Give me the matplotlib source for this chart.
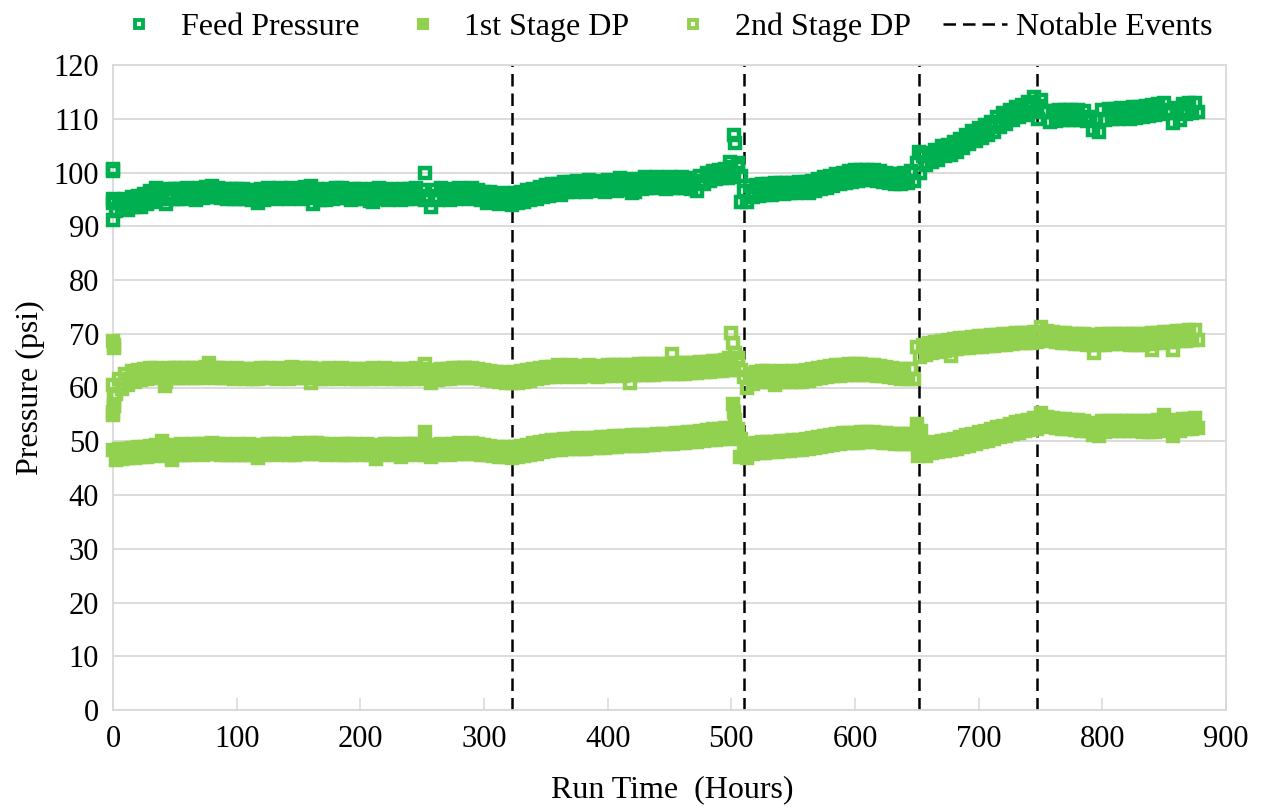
import numpy as np
import matplotlib
matplotlib.use("Agg")
import matplotlib.pyplot as plt
from matplotlib.lines import Line2D

plt.rcParams['font.family'] = ['Liberation Serif', 'DejaVu Serif']

# Logged readings every 2.5 hours (0 ... 877.5 h)
run_time = np.arange(0, 880, 2.5)

feed_pressure = [
    94.4, 92.8, 94.9, 93.2, 95.0, 93.1, 95.4, 93.6, 95.6, 93.5, 96.0, 94.1, 96.6, 94.5, 97.1, 95.0, 96.8, 94.2, 97.0, 95.1,
    97.0, 95.1, 96.9, 95.0, 97.2, 95.2, 96.8, 94.9, 97.1, 95.3, 97.3, 95.4, 97.4, 95.5, 97.2, 95.2, 97.0, 95.0, 96.9, 95.1,
    96.9, 95.0, 97.0, 95.1, 96.8, 94.8, 96.4, 94.3, 96.9, 94.9, 97.1, 95.2, 97.0, 95.0, 97.2, 95.3, 96.9, 95.1, 97.1, 95.2,
    97.0, 95.1, 97.3, 95.4, 97.4, 95.3, 96.9, 94.9, 96.7, 94.8, 97.0, 95.1, 97.1, 95.2, 97.2, 95.3, 96.8, 94.9, 97.0, 95.0,
    96.9, 95.0, 96.6, 94.7, 96.9, 95.0, 97.1, 95.2, 96.8, 94.9, 97.0, 95.1, 96.7, 94.8, 97.0, 95.1, 96.9, 95.0, 97.1, 95.2,
    96.8, 94.9, 95.6, 93.5, 96.8, 94.8, 97.1, 95.2, 96.8, 94.9, 97.0, 95.1, 97.2, 95.3, 96.9, 95.0, 97.1, 95.2, 96.8, 94.9,
    96.3, 94.4, 96.4, 94.5, 96.0, 94.1, 96.2, 94.3, 95.9, 93.9, 96.2, 94.3, 96.4, 94.5, 96.7, 94.8, 97.0, 95.1, 97.3, 95.4,
    97.6, 95.7, 97.9, 96.0, 97.8, 95.8, 98.2, 96.3, 98.2, 96.3, 98.5, 96.6, 98.3, 96.3, 98.6, 96.7, 98.4, 96.5, 98.2, 96.3,
    98.6, 96.7, 98.5, 96.6, 98.9, 97.0, 98.7, 96.8, 98.3, 96.3, 98.8, 96.9, 99.1, 97.2, 99.0, 97.1, 99.2, 97.3, 98.9, 97.0,
    99.1, 97.2, 99.0, 97.1, 99.1, 97.2, 98.9, 97.0, 98.5, 96.6, 99.3, 97.8, 99.9, 98.4, 100.3, 98.8, 100.4, 98.9, 100.7, 99.0,
    101.0, 99.2, 101.0, 99.3, 96.6, 94.6, 97.4, 95.4, 97.6, 95.7, 97.9, 95.9, 97.8, 95.9, 98.1, 96.1, 98.0, 96.0, 98.1, 96.1,
    98.0, 96.1, 98.2, 96.3, 98.3, 96.2, 98.5, 96.6, 98.8, 96.9, 99.1, 97.2, 99.4, 97.5, 99.7, 97.8, 100.0, 98.1, 100.2, 98.3,
    100.4, 98.5, 100.5, 98.6, 100.5, 98.6, 100.4, 98.5, 100.2, 98.3, 99.9, 98.0, 99.7, 97.8, 99.8, 97.8, 100.0, 98.1, 100.3, 98.4,
    101.8, 100.0, 103.0, 101.4, 103.6, 101.9, 104.2, 102.4, 104.9, 103.0, 105.2, 103.3, 105.6, 103.8, 106.3, 104.5, 107.0, 105.3, 107.7, 105.9,
    108.2, 106.4, 108.8, 106.9, 109.4, 107.6, 110.3, 108.4, 111.0, 109.1, 111.6, 109.7, 112.2, 110.3, 112.5, 110.7, 113.2, 111.3, 114.0, 112.3,
    113.5, 111.2, 111.4, 109.4, 111.5, 109.6, 111.7, 109.8, 111.6, 109.7, 111.7, 109.8, 111.6, 109.7, 111.5, 109.5, 110.3, 108.0, 110.0, 107.6,
    111.7, 109.8, 111.8, 109.9, 111.9, 110.0, 112.0, 110.1, 111.9, 110.0, 112.1, 110.2, 112.2, 110.3, 112.4, 110.5, 112.6, 110.7, 112.8, 110.9,
    113.0, 111.0, 111.6, 109.2, 112.0, 109.8, 112.8, 110.8, 113.0, 111.1, 113.0, 111.2,
]
feed_extra_t = [0, 0, 0, 0, 1, 502, 503, 499, 505, 508, 652, 748, 185, 162, 210, 252, 420]
feed_extra_v = [100.6, 100.2, 91.2, 95.0, 94.5, 107.0, 105.5, 102.0, 101.8, 94.6,
                103.8, 110.0, 97.0, 94.2, 94.5, 100.0, 96.2]

stage1_dp = [
    48.4, 46.6, 48.5, 46.7, 48.6, 46.8, 48.7, 46.9, 48.9, 47.0, 49.0, 47.1, 49.1, 47.2, 49.3, 47.4, 50.0, 47.3, 49.2, 46.5,
    49.3, 47.4, 49.4, 47.5, 49.3, 47.4, 49.5, 47.6, 49.4, 47.5, 49.5, 47.6, 49.7, 47.7, 49.5, 47.5, 49.4, 47.5, 49.3, 47.4,
    49.4, 47.5, 49.3, 47.4, 49.5, 47.5, 49.1, 46.9, 49.3, 47.4, 49.5, 47.6, 49.4, 47.5, 49.5, 47.6, 49.3, 47.4, 49.4, 47.5,
    49.6, 47.7, 49.5, 47.6, 49.7, 47.7, 49.6, 47.6, 49.4, 47.5, 49.5, 47.6, 49.3, 47.4, 49.5, 47.5, 49.4, 47.5, 49.5, 47.6,
    49.3, 47.4, 49.4, 47.5, 48.8, 46.7, 49.3, 47.4, 49.5, 47.6, 49.4, 47.5, 49.2, 47.1, 49.4, 47.4, 49.5, 47.6, 49.4, 47.5,
    49.3, 47.4, 49.0, 47.0, 49.3, 47.4, 49.5, 47.6, 49.3, 47.4, 49.5, 47.6, 49.6, 47.7, 49.5, 47.6, 49.6, 47.7, 49.4, 47.5,
    49.3, 47.4, 49.1, 47.2, 48.9, 47.0, 49.0, 47.1, 48.9, 46.9, 49.0, 47.1, 49.1, 47.2, 49.3, 47.4, 49.6, 47.7, 49.9, 48.0,
    50.1, 48.2, 50.3, 48.4, 50.3, 48.4, 50.5, 48.5, 50.5, 48.6, 50.6, 48.6, 50.5, 48.5, 50.6, 48.7, 50.6, 48.7, 50.7, 48.8,
    50.8, 48.9, 50.9, 49.0, 51.0, 49.1, 51.0, 49.1, 51.1, 49.2, 51.1, 49.2, 51.2, 49.3, 51.2, 49.3, 51.3, 49.4, 51.3, 49.4,
    51.4, 49.5, 51.5, 49.6, 51.6, 49.7, 51.7, 49.8, 51.8, 49.9, 52.0, 50.1, 52.1, 50.2, 52.2, 50.3, 52.3, 50.4, 52.4, 50.5,
    52.5, 50.6, 52.3, 50.5, 48.8, 46.9, 49.5, 47.6, 49.7, 47.8, 49.8, 47.9, 49.9, 48.0, 49.9, 48.0, 50.0, 48.1, 50.1, 48.2,
    50.2, 48.3, 50.3, 48.4, 50.4, 48.5, 50.6, 48.7, 50.8, 48.9, 51.0, 49.1, 51.2, 49.3, 51.4, 49.5, 51.5, 49.6, 51.6, 49.7,
    51.6, 49.7, 51.7, 49.8, 51.7, 49.8, 51.7, 49.8, 51.6, 49.7, 51.5, 49.6, 51.4, 49.5, 51.4, 49.5, 51.4, 49.5, 51.3, 49.4,
    53.2, 51.0, 49.5, 47.3, 49.7, 47.8, 49.9, 48.0, 50.1, 48.2, 50.3, 48.4, 50.5, 48.6, 50.8, 48.9, 51.1, 49.2, 51.4, 49.5,
    51.7, 49.8, 52.0, 50.1, 52.3, 50.4, 52.6, 50.7, 52.9, 51.0, 53.2, 51.3, 53.5, 51.6, 53.8, 51.9, 54.0, 52.1, 54.3, 52.3,
    55.2, 52.9, 54.5, 52.6, 54.3, 52.4, 54.2, 52.3, 54.1, 52.2, 54.0, 52.1, 53.9, 52.0, 53.8, 51.9, 53.4, 51.2, 53.2, 51.0,
    53.7, 51.8, 53.8, 51.9, 53.8, 51.9, 53.8, 51.9, 53.8, 51.9, 53.8, 51.9, 53.7, 51.8, 53.7, 51.8, 53.7, 51.8, 53.9, 52.0,
    54.8, 52.4, 53.6, 51.0, 54.0, 52.0, 54.1, 52.2, 54.2, 52.3, 54.3, 52.4,
]
stage1_extra_t = [0, 1, 252, 501, 502, 503, 648, 651, 653, 507]
stage1_extra_v = [55.5, 56.8, 51.8, 57.0, 55.5, 54.0, 51.0, 47.3, 52.0, 47.0]

stage2_dp = [
    60.5, 58.8, 61.5, 59.7, 62.5, 60.5, 63.0, 61.1, 63.3, 61.4, 63.5, 61.6, 63.6, 61.7, 63.6, 61.7, 63.4, 61.0, 63.6, 61.7,
    63.6, 61.7, 63.7, 61.8, 63.6, 61.7, 63.7, 61.8, 63.6, 61.7, 63.8, 61.9, 63.7, 61.8, 63.6, 61.7, 63.6, 61.7, 63.5, 61.6,
    63.6, 61.7, 63.5, 61.6, 63.5, 61.6, 63.4, 61.5, 63.6, 61.7, 63.6, 61.7, 63.5, 61.6, 63.6, 61.7, 63.5, 61.6, 63.6, 61.7,
    63.6, 61.7, 63.7, 61.8, 63.6, 61.7, 63.5, 61.6, 63.4, 61.5, 63.6, 61.7, 63.5, 61.6, 63.6, 61.7, 63.5, 61.6, 63.5, 61.6,
    63.4, 61.5, 63.5, 61.6, 63.6, 61.7, 63.5, 61.6, 63.6, 61.7, 63.4, 61.5, 63.5, 61.6, 63.4, 61.5, 63.5, 61.6, 63.6, 61.7,
    63.4, 61.5, 62.9, 60.8, 63.3, 61.4, 63.5, 61.6, 63.5, 61.6, 63.6, 61.7, 63.6, 61.7, 63.7, 61.8, 63.6, 61.7, 63.5, 61.6,
    63.3, 61.4, 63.1, 61.2, 62.9, 61.0, 62.8, 60.9, 62.7, 60.8, 62.8, 60.9, 63.0, 61.1, 63.2, 61.3, 63.4, 61.5, 63.6, 61.7,
    63.8, 61.9, 63.9, 62.0, 64.1, 62.1, 64.0, 62.0, 64.1, 62.2, 63.9, 62.0, 64.0, 62.1, 64.1, 62.2, 63.9, 62.0, 64.0, 62.1,
    64.1, 62.2, 64.2, 62.3, 64.1, 62.2, 64.2, 62.3, 64.2, 62.3, 64.3, 62.4, 64.3, 62.4, 64.3, 62.4, 64.4, 62.5, 64.4, 62.5,
    64.4, 62.5, 64.5, 62.6, 64.5, 62.6, 64.6, 62.7, 64.6, 62.7, 64.7, 62.8, 64.8, 62.9, 64.9, 63.0, 65.0, 63.1, 65.1, 63.2,
    65.2, 63.3, 65.1, 63.2, 62.0, 60.0, 62.6, 60.6, 62.9, 61.0, 63.0, 61.1, 63.0, 61.1, 62.9, 61.0, 63.0, 61.1, 62.9, 61.0,
    63.0, 61.1, 63.0, 61.1, 63.2, 61.3, 63.4, 61.5, 63.6, 61.7, 63.8, 61.9, 64.0, 62.1, 64.1, 62.2, 64.2, 62.3, 64.3, 62.4,
    64.3, 62.4, 64.3, 62.4, 64.2, 62.3, 64.1, 62.2, 64.0, 62.1, 63.8, 61.9, 63.6, 61.7, 63.5, 61.6, 63.5, 61.6, 63.5, 61.6,
    67.5, 65.6, 68.0, 66.1, 68.3, 66.4, 68.5, 66.6, 68.7, 66.8, 68.9, 67.0, 69.1, 67.2, 69.2, 67.3, 69.3, 67.4, 69.4, 67.5,
    69.5, 67.6, 69.6, 67.7, 69.7, 67.8, 69.8, 67.9, 69.9, 68.0, 70.0, 68.1, 70.1, 68.2, 70.2, 68.3, 70.2, 68.3, 70.3, 68.4,
    71.3, 69.0, 70.5, 68.6, 70.3, 68.4, 70.2, 68.3, 70.1, 68.2, 70.0, 68.1, 70.0, 68.1, 69.9, 68.0, 69.8, 67.9, 69.8, 67.9,
    69.9, 68.0, 70.0, 68.1, 70.0, 68.1, 70.0, 68.1, 69.9, 68.0, 69.9, 68.0, 69.9, 68.0, 70.0, 68.1, 70.1, 68.2, 70.2, 68.3,
    70.3, 68.4, 70.4, 68.5, 70.5, 68.6, 70.6, 68.7, 70.7, 68.8, 70.7, 68.8,
]
stage2_extra_t = [0, 0.5, 1, 0, 0.5, 1, 42, 78, 145, 160, 183, 207, 252, 285, 418,
                  452, 500, 501, 503, 498, 505, 535, 678, 793, 840, 857]
stage2_extra_v = [68.6, 68.0, 67.4, 54.8, 56.5, 58.5, 60.3, 64.6, 63.8, 60.9, 63.5,
                  63.3, 64.4, 63.6, 60.8, 66.2, 70.2, 68.3, 66.5, 65.5, 65.5, 60.5,
                  65.8, 66.5, 67.0, 67.0]

event_hours = [323, 510, 652, 747]

x_ticks = [0, 100, 200, 300, 400, 500, 600, 700, 800, 900]
y_ticks = [0, 10, 20, 30, 40, 50, 60, 70, 80, 90, 100, 110, 120]

DARK_GREEN = '#00B050'
LIGHT_GREEN = '#92D050'
GRID = '#D9D9D9'

W, H = 1267, 809
fig = plt.figure(figsize=(W / 100, H / 100), dpi=100)
ax = fig.add_axes([113 / W, 1 - 710 / H, (1226 - 113) / W, (710 - 65) / H])

# Event markers sit underneath the data bands
for ev in event_hours:
    ax.axvline(ev, color='black', lw=1.8, dashes=(5, 2.8), zorder=2)

ms, mew = 6.8, 3.2
feed_t = np.concatenate([run_time, feed_extra_t])
feed_v = np.concatenate([feed_pressure, feed_extra_v])
s1_t = np.concatenate([run_time, stage1_extra_t])
s1_v = np.concatenate([stage1_dp, stage1_extra_v])
s2_t = np.concatenate([run_time, stage2_extra_t])
s2_v = np.concatenate([stage2_dp, stage2_extra_v])

ax.plot(feed_t, feed_v, ls='none', marker='s', ms=ms, mew=mew,
        mec=DARK_GREEN, mfc='none', zorder=3, clip_on=False)
ax.plot(s1_t, s1_v, ls='none', marker='s', ms=ms, mew=mew,
        mec=LIGHT_GREEN, mfc=LIGHT_GREEN, zorder=3, clip_on=False)
ax.plot(s2_t, s2_v, ls='none', marker='s', ms=ms, mew=mew,
        mec=LIGHT_GREEN, mfc='none', zorder=3, clip_on=False)

ax.set_xlim(0, 900)
ax.set_ylim(0, 120)
ax.set_xticks(x_ticks)
ax.set_yticks(y_ticks)
ax.set_xticklabels([str(v) for v in x_ticks], fontsize=22)
ax.set_yticklabels([str(v) for v in y_ticks], fontsize=22)
ax.tick_params(axis='x', direction='in', length=9, width=1.1, color=GRID, pad=11)
ax.tick_params(axis='y', length=0, pad=10)
ax.yaxis.grid(True, color=GRID, lw=1.3, zorder=0)
ax.set_axisbelow(True)
for sp in ax.spines.values():
    sp.set_color(GRID)
    sp.set_linewidth(1.3)

fig.text(30 / W, 1 - 388 / H, 'Pressure (psi)', rotation=90, ha='center',
         va='center', fontsize=23)
fig.text(672 / W, 1 - 790 / H, 'Run Time  (Hours)', ha='center', va='center',
         fontsize=23)

handles = [
    Line2D([], [], ls='none', marker='s', ms=6.0, mew=2.8, mec=DARK_GREEN, mfc='none'),
    Line2D([], [], ls='none', marker='s', ms=7.5, mew=1.5, mec=LIGHT_GREEN, mfc=LIGHT_GREEN),
    Line2D([], [], ls='none', marker='s', ms=6.0, mew=2.8, mec=LIGHT_GREEN, mfc='none'),
    Line2D([], [], color='black', lw=1.8, dashes=(5, 2.8)),
]
labels = ['Feed Pressure', '1st Stage DP', '2nd Stage DP', 'Notable Events']
fig.legend(handles, labels, loc='center', bbox_to_anchor=(660 / W, 1 - 27 / H),
           ncol=4, frameon=False, fontsize=23, handlelength=2.0,
           handletextpad=0.3, columnspacing=1.0, borderaxespad=0)

fig.savefig('out.png', dpi=100)
